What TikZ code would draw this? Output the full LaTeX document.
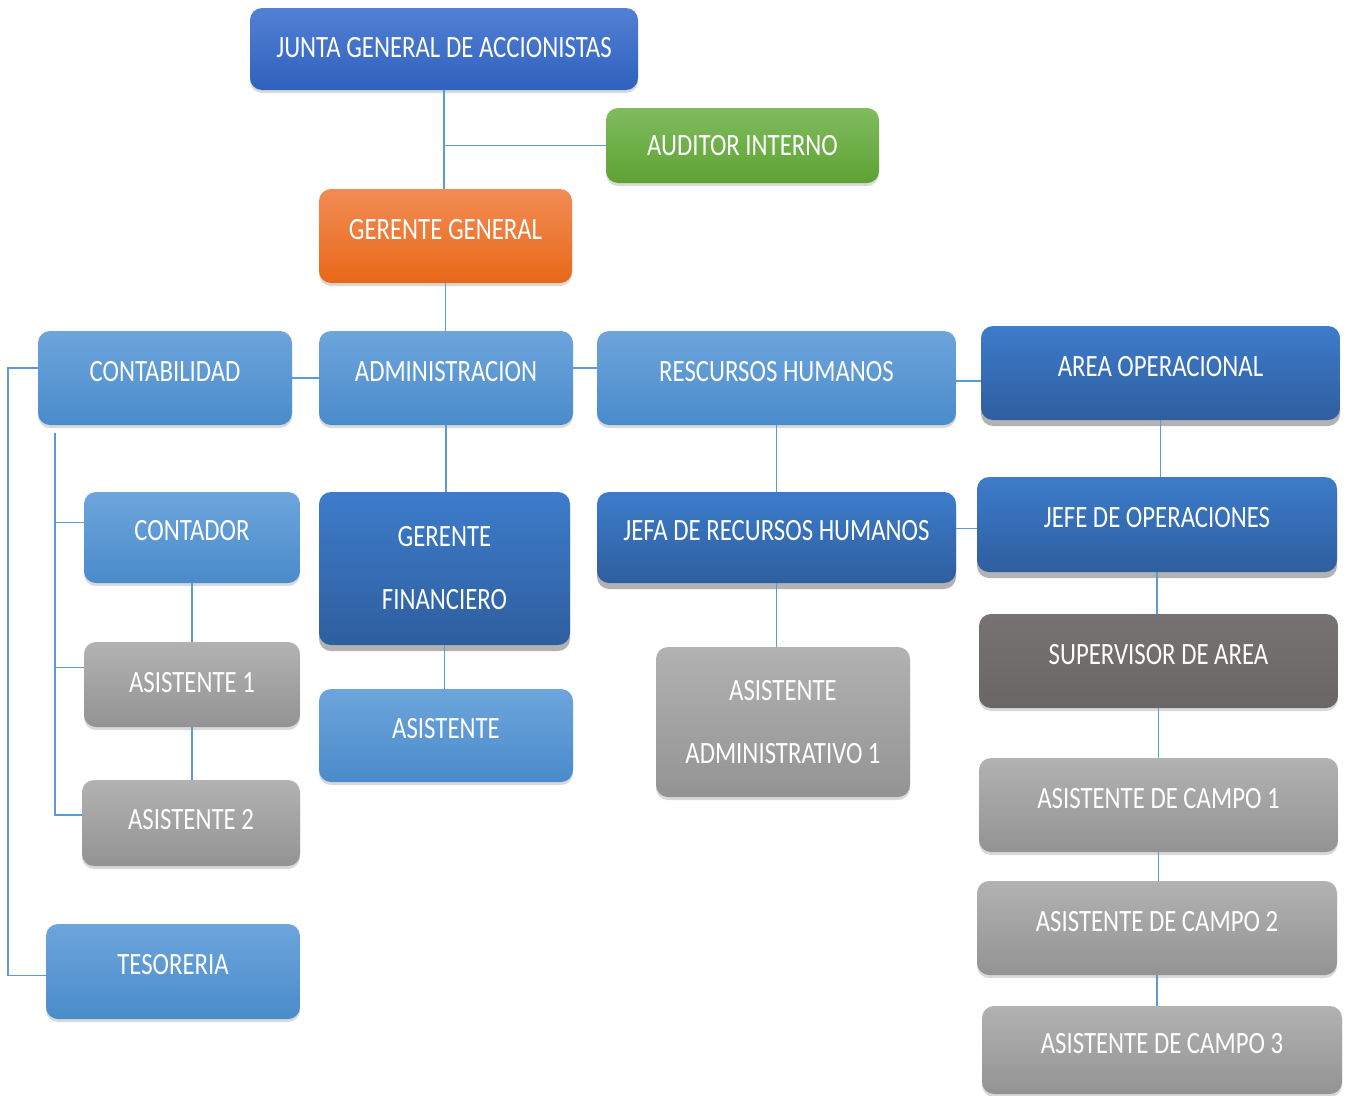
\documentclass[tikz,border=0pt]{standalone}
\usepackage{fontspec}
\setmainfont{Carlito}[FakeStretch=0.8]
\usetikzlibrary{shadows}

\definecolor{linkc}{HTML}{5B9BD5}
\definecolor{lbTop}{HTML}{6DA5DC}\definecolor{lbBot}{HTML}{4A8BCB}
\definecolor{dbTop}{HTML}{3D7CCB}\definecolor{dbBot}{HTML}{2E5E9E}
\definecolor{jgTop}{HTML}{5280D4}\definecolor{jgBot}{HTML}{2F61BD}
\definecolor{grTop}{HTML}{80BC5E}\definecolor{grBot}{HTML}{5EA233}
\definecolor{orTop}{HTML}{F28C55}\definecolor{orBot}{HTML}{E86818}
\definecolor{gyTop}{HTML}{B2B2B2}\definecolor{gyBot}{HTML}{939393}
\definecolor{svTop}{HTML}{777372}\definecolor{svBot}{HTML}{6A6666}

\tikzset{
  box/.style={rounded corners=12pt, text=white, inner sep=0pt, align=center,
    font=\fontsize{31}{63}\selectfont},
  oneline/.style={text height=20pt, text depth=14pt},
  softshadow/.style={drop shadow={shadow xshift=0pt, shadow yshift=-3pt, opacity=0.15, fill=black}},
  lightbox/.style={box, top color=lbTop, bottom color=lbBot, softshadow},
  darkbox/.style={box, top color=dbTop, bottom color=dbBot,
    drop shadow={shadow xshift=0pt, shadow yshift=-6pt, opacity=0.3, fill=black}},
  graybox/.style={box, top color=gyTop, bottom color=gyBot, softshadow},
  link/.style={draw=linkc, line width=1.5pt},
}

\begin{document}
\begin{tikzpicture}[x=1pt, y=-1pt]
\useasboundingbox (0,0) rectangle (1349,1095);

% top of the hierarchy
\node[box, text height=20pt, text depth=4pt, top color=jgTop, bottom color=jgBot, softshadow,
  minimum width=388pt, minimum height=82pt]
  (junta) at (444,49) {JUNTA GENERAL DE ACCIONISTAS};
\node[box, text height=20pt, text depth=0pt, top color=grTop, bottom color=grBot, softshadow,
  minimum width=273pt, minimum height=75pt]
  (auditor) at (742.5,145.5) {AUDITOR INTERNO};
\node[box, oneline, top color=orTop, bottom color=orBot, softshadow, minimum width=253pt, minimum height=94pt]
  (gg) at (445.5,236) {GERENTE GENERAL};

% departments
\node[lightbox, oneline, minimum width=254pt, minimum height=94pt] (conta) at (165,378) {CONTABILIDAD};
\node[lightbox, oneline, minimum width=254pt, minimum height=94pt] (admin) at (446,378) {ADMINISTRACION};
\node[lightbox, oneline, minimum width=359pt, minimum height=94pt] (rrhh) at (776.5,378) {RESCURSOS HUMANOS};
\node[darkbox, oneline, minimum width=359pt, minimum height=94pt] (areaop) at (1160.5,373) {AREA OPERACIONAL};

% contabilidad branch
\node[lightbox, oneline, minimum width=216pt, minimum height=91pt] (contador) at (192,537.5) {CONTADOR};
\node[graybox, text height=20pt, text depth=4pt, minimum width=216pt, minimum height=85pt] (asis1) at (192,684.5) {ASISTENTE 1};
\node[graybox, text height=20pt, text depth=8pt, minimum width=218pt, minimum height=86pt] (asis2) at (191,823) {ASISTENTE 2};
\node[lightbox, oneline, minimum width=254pt, minimum height=95pt] (teso) at (173,971.5) {TESORERIA};

% administracion branch
\node[darkbox, minimum width=251pt, minimum height=153pt] (gf) at (444.5,568.5) {GERENTE\\FINANCIERO};
\node[lightbox, oneline, minimum width=254pt, minimum height=93pt] (asist) at (446,735.5) {ASISTENTE};

% recursos humanos branch
\node[darkbox, oneline, minimum width=359pt, minimum height=91pt] (jefa) at (776.5,537.5) {JEFA DE RECURSOS HUMANOS};
\node[graybox, minimum width=254pt, minimum height=150pt] (asadm) at (783,722) {ASISTENTE\\ADMINISTRATIVO 1};

% area operacional branch
\node[darkbox, oneline, minimum width=360pt, minimum height=95pt] (jefeop) at (1157,524.5) {JEFE DE OPERACIONES};
\node[box, oneline, top color=svTop, bottom color=svBot, softshadow, minimum width=359pt, minimum height=94pt]
  (superv) at (1158.5,661) {SUPERVISOR DE AREA};
\node[graybox, oneline, minimum width=359pt, minimum height=94pt] (campo1) at (1158.5,805) {ASISTENTE DE CAMPO 1};
\node[graybox, oneline, minimum width=360pt, minimum height=94pt] (campo2) at (1157,928) {ASISTENTE DE CAMPO 2};
\node[graybox, oneline, minimum width=360pt, minimum height=88pt] (campo3) at (1162,1050) {ASISTENTE DE CAMPO 3};

% connectors
\draw[link] (junta.south) -- (junta.south |- gg.north);
\draw[link] (auditor.west) -- (auditor.west -| junta.south);
\draw[link] (gg.south) -- (gg.south |- admin.north);
\draw[link] (conta.east) -- (conta.east -| admin.west);
\draw[link] ([yshift=10pt]admin.east) -- ([yshift=10pt]admin.east -| rrhh.west);
\draw[link] ([yshift=-3pt]rrhh.east) -- ([yshift=-3pt]rrhh.east -| areaop.west);
\draw[link] (admin.south) -- (admin.south |- gf.north);
\draw[link] (gf.south) -- (gf.south |- asist.north);
\draw[link] (rrhh.south) -- (rrhh.south |- jefa.north);
\draw[link] (jefa.south) -- (jefa.south |- asadm.north);
\draw[link] ([yshift=9pt]jefa.east) -- ([yshift=9pt]jefa.east -| jefeop.west);
\draw[link] (areaop.south) -- (areaop.south |- jefeop.north);
\draw[link] (jefeop.south) -- (jefeop.south |- superv.north);
\draw[link] (superv.south) -- (superv.south |- campo1.north);
\draw[link] (campo1.south) -- (campo1.south |- campo2.north);
\draw[link] (campo2.south) -- (campo2.south |- campo3.north);
\draw[link] (contador.south) -- (contador.south |- asis1.north);
\draw[link] (asis1.south) -- (asis1.south |- asis2.north);
% outer bracket from contabilidad down to tesoreria
\draw[link] ([yshift=10pt]conta.west) -- ++(-30,0) |- ([yshift=-4pt]teso.west);
% inner bracket for contador and its assistants
\coordinate (ct) at (55,433);
\coordinate (b1) at ([yshift=15pt]contador.west);
\coordinate (b2) at ([yshift=17pt]asis1.west);
\coordinate (b3) at ([yshift=8pt]asis2.west);
\draw[link] (ct) |- (b3);
\draw[link] (b1) -- (b1 -| ct);
\draw[link] (b2) -- (b2 -| ct);
\end{tikzpicture}
\end{document}
